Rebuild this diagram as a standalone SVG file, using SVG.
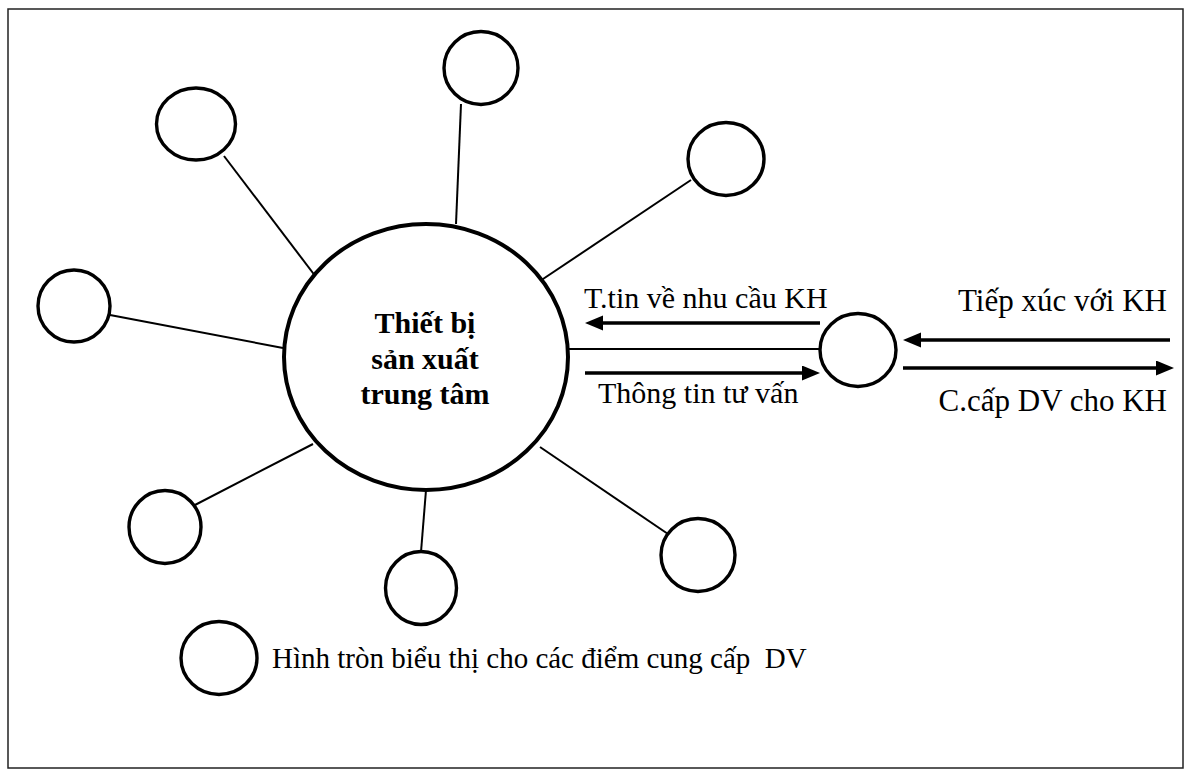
<svg xmlns="http://www.w3.org/2000/svg" width="1192" height="776" viewBox="0 0 1192 776">
  <style>
    .node { fill: #ffffff; stroke: #000000; stroke-width: 3.4; }
    .hub { fill: #ffffff; stroke: #000000; stroke-width: 4; }
    .link { stroke: #000000; stroke-width: 2; fill: none; }
    .arrow { stroke: #000000; stroke-width: 3.4; fill: none; marker-end: url(#head); }
    .lbl { font-family: "Liberation Serif", "Times New Roman", "DejaVu Serif", serif; font-size: 30px; fill: #000000; }
    .hubtxt { font-family: "Liberation Serif", "Times New Roman", "DejaVu Serif", serif; font-size: 30px; font-weight: bold; fill: #000000; text-anchor: middle; }
  </style>
  <defs>
    <marker id="head" markerUnits="userSpaceOnUse" markerWidth="20" markerHeight="16" refX="6" refY="7.5" orient="auto">
      <path d="M0,0 L18,7.5 L0,15 z" fill="#000000"/>
    </marker>
  </defs>
  <rect width="1192" height="776" fill="#ffffff"/>
  <rect id="frame" x="8" y="9" width="1175" height="759" fill="none" stroke="#222222" stroke-width="1.5"/>

  <g id="connectors">
    <line class="link" x1="224" y1="156" x2="316" y2="277"/>
    <line class="link" x1="461" y1="104" x2="456" y2="224"/>
    <line class="link" x1="691" y1="180" x2="540" y2="281"/>
    <line class="link" x1="110" y1="315" x2="283" y2="348"/>
    <line class="link" x1="193" y1="506" x2="313" y2="444"/>
    <line class="link" x1="426" y1="490" x2="421" y2="552"/>
    <line class="link" x1="540" y1="447" x2="668" y2="534"/>
    <line class="link" x1="569" y1="349" x2="820" y2="349" stroke-width="2.5"/>
    <line class="arrow" x1="820" y1="323" x2="597" y2="323"/>
    <line class="arrow" x1="585" y1="373" x2="808" y2="373"/>
    <line class="arrow" x1="1170" y1="340" x2="915" y2="340"/>
    <line class="arrow" x1="903" y1="368" x2="1162" y2="368"/>
  </g>

  <g id="hub">
    <ellipse class="hub" cx="426" cy="357" rx="142" ry="133"/>
    <text class="hubtxt" x="425" y="333">Thiết bị</text>
    <text class="hubtxt" x="425" y="369">sản xuất</text>
    <text class="hubtxt" x="425" y="404">trung tâm</text>
  </g>

  <g id="node-top-left"><ellipse class="node" cx="196" cy="124" rx="39.5" ry="36"/></g>
  <g id="node-top"><ellipse class="node" cx="481" cy="68" rx="37" ry="36.5"/></g>
  <g id="node-top-right"><ellipse class="node" cx="726" cy="159" rx="38" ry="36.5"/></g>
  <g id="node-left"><ellipse class="node" cx="74" cy="306" rx="36" ry="36"/></g>
  <g id="node-bottom-left"><ellipse class="node" cx="165" cy="527" rx="36" ry="36.5"/></g>
  <g id="node-bottom"><ellipse class="node" cx="421" cy="588" rx="35.5" ry="36.5"/></g>
  <g id="node-bottom-right"><ellipse class="node" cx="698" cy="555" rx="37" ry="36.5"/></g>
  <g id="node-contact"><ellipse class="node" cx="858" cy="350" rx="38" ry="36.5"/></g>

  <g id="labels">
    <text class="lbl" x="584" y="308">T.tin về nhu cầu KH</text>
    <text class="lbl" x="598" y="403">Thông tin tư vấn</text>
    <text class="lbl" x="1167" y="311" text-anchor="end" style="font-size:31px">Tiếp xúc với KH</text>
    <text class="lbl" x="1167" y="411" text-anchor="end" style="font-size:31px">C.cấp DV cho KH</text>
  </g>

  <g id="legend">
    <ellipse class="node" cx="219" cy="658" rx="38" ry="36.5"/>
    <text class="lbl" x="272" y="668" xml:space="preserve" style="font-size:29px">Hình tròn biểu thị cho các điểm cung cấp  DV</text>
  </g>
</svg>
